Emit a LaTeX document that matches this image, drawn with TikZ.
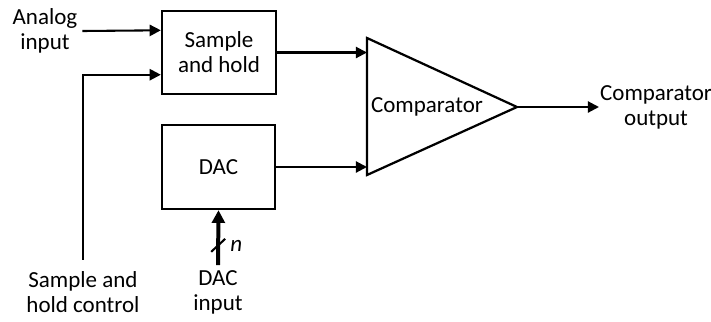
\documentclass[tikz,border=0pt]{standalone}
\usepackage{fontspec}
\setmainfont{Carlito}
\usetikzlibrary{positioning, arrows.meta, calc}
\definecolor{inkblack}{HTML}{000000}

\begin{document}
\begin{tikzpicture}[
    x=0.022cm, y=-0.022cm,
    font=\fontsize{14.4pt}{15.7pt}\selectfont,
    every node/.style={align=center},
    block/.style={
        draw=inkblack, line width=1.4pt, fill=white,
        inner sep=0pt
    },
    arrow/.style={
        -{Triangle[length=7pt, width=7pt]},
        line width=1.3pt, draw=inkblack
    },
    bus/.style={
        -{Triangle[length=8pt, width=8pt]},
        line width=2.5pt, draw=inkblack
    },
    label/.style={inner sep=3pt, text=inkblack}
]

\useasboundingbox (0,0) rectangle (711,321);

\node[block, minimum width=2.51cm, minimum height=1.83cm] (sh)  at (219,52.5) {Sample\\and hold};
\node[block, minimum width=2.49cm, minimum height=1.85cm] (dac) at (218.5,167) {DAC};

\coordinate (ctop) at (367,38);
\coordinate (cbot) at (367,175);
\coordinate (ctip) at (517,107);
\draw[line width=1.4pt, line join=miter] (ctop) -- (ctip) -- (cbot) -- cycle;
\node (comp) at (427,107) {Comparator};

\coordinate (shin1) at ($(sh.north west)!0.24!(sh.south west)$);
\coordinate (shin2) at ($(sh.north west)!0.76!(sh.south west)$);

\node[label] (ain)   at (45,31)  {Analog\\input};
\node[label, inner ysep=7pt] (shc) at (83,292) {Sample and\\hold control};
\node[label] (dacin) at (218,292) {DAC\\input};
\node[label, anchor=west, inner sep=0.5pt] (cout) at (599,107) {Comparator\\output};

\draw[arrow] (ain.east) -- (shin1);
\draw[arrow] (shc.north) |- (shin2);
\draw[arrow] (sh.east) -- (sh.east -| ctop);
\draw[arrow] (dac.east) -- (dac.east -| ctop);
\draw[arrow] (ctip) -- (cout.west);

\draw[bus] (dacin.north) -- (dac.south);
\coordinate (slash) at ($(dacin.north)!0.35!(dac.south)$);
\draw[line width=1.3pt] ($(slash)+(-7,6)$) -- ($(slash)+(7,-7)$);
\node[label] (nbits) at ($(slash)+(18,0)$) {\itshape n};

\end{tikzpicture}
\end{document}
